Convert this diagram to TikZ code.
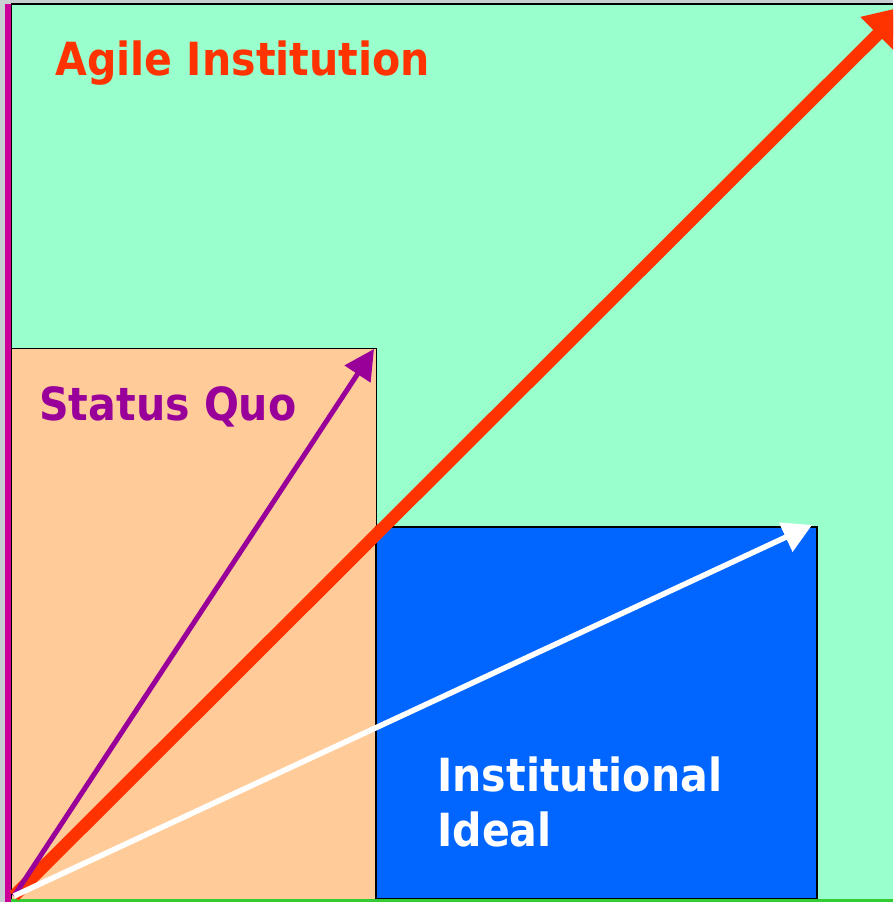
\documentclass[tikz,border=0pt]{standalone}
\usepackage{fontspec}
\setmainfont{DejaVu Sans}
\newfontfamily\labelfont[FakeStretch=0.9]{DejaVu Sans}
\usetikzlibrary{arrows.meta}
\definecolor{framegray}{RGB}{200,206,210}
\definecolor{agilegreen}{RGB}{153,255,204}
\definecolor{quoorange}{RGB}{255,204,153}
\definecolor{idealblue}{RGB}{0,102,255}
\definecolor{agilered}{RGB}{255,51,0}
\definecolor{quopurple}{RGB}{153,0,153}
\definecolor{axismagenta}{RGB}{204,0,153}
\definecolor{axisgreen}{RGB}{51,204,51}
\tikzset{>=latex}

\begin{document}
\begin{tikzpicture}[x=0.02cm,y=-0.02cm,
    label text/.style={font=\labelfont\bfseries\fontsize{26}{31.3}\selectfont, inner sep=0pt, anchor=base west}]
    \useasboundingbox (0,0) rectangle (893,902);
    \clip (0,0) rectangle (893,902);

    % Define coordinates for the origin and the arrow tips
    \coordinate (O) at (14,896);
    \coordinate (AI) at (906,6);
    \coordinate (SQ) at (374,349);
    \coordinate (II) at (812,525);

    % Background and regions
    \fill[framegray] (0,0) rectangle (893,902);
    \fill[agilegreen] (11,4) rectangle (893,899);
    \draw[line width=0.04cm] (11,4) -- (893,4);
    \draw[line width=0.03cm] (11.5,4) -- (11.5,899);
    \filldraw[draw=black,fill=quoorange,line width=0.02cm] (11,348) rectangle (376,899);
    \filldraw[draw=black,fill=idealblue,line width=0.04cm] (376,527) rectangle (817,899);

    % Axes
    \fill[axisgreen] (11,899) rectangle (893,902);
    \fill[axismagenta] (5,4) rectangle (11,902);

    % Draw the arrows
    \draw[-{Triangle[length=0.8cm,width=0.92cm]}, line width=0.25cm, agilered] (O) -- (AI);
    \draw[-{Triangle[length=0.6cm,width=0.6cm]}, line width=0.1cm, quopurple] (O) -- (SQ);
    \draw[-{Triangle[length=0.58cm,width=0.62cm]}, line width=0.11cm, white] (O) -- (II);

    % Labels
    \node[label text, text=agilered] (agile) at (55,76) {Agile Institution};
    \node[label text, text=quopurple] (quo) at (39,420) {Status Quo};
    \node[label text, text=white, align=left] (ideal) at (437,846) {Institutional\\Ideal};
\end{tikzpicture}
\end{document}
